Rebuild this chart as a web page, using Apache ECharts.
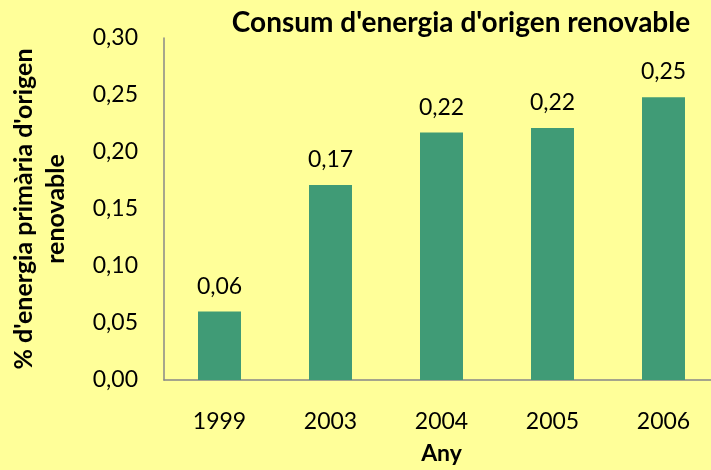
<!DOCTYPE html>
<html>
<head>
<meta charset="utf-8">
<script src="https://cdn.jsdelivr.net/npm/echarts@6/dist/echarts.min.js"></script>
<style>
  html, body { margin: 0; padding: 0; background: #ffff99; }
  #chart { width: 711px; height: 470px; }
</style>
</head>
<body>
<div id="chart"></div>
<script>
// dades
const years = ['1999', '2003', '2004', '2005', '2006']
const renewableShare = [0.06, 0.171, 0.217, 0.221, 0.248]
const yTicks = { min: 0, max: 0.30, step: 0.05 }

const fontFamily = 'Lato, "Open Sans", sans-serif'
const fmt = v => v.toFixed(2).replace('.', ',')

const chart = echarts.init(document.getElementById('chart'))

const option = {
  backgroundColor: '#ffff99',
  animation: false,
  title: {
    text: "Consum d'energia d'origen renovable",
    left: 456,
    top: 4,
    textAlign: 'center',
    textStyle: { fontFamily, fontSize: 28, fontWeight: 'bold', color: '#000' }
  },
  grid: { left: 164, right: -8, top: 38, bottom: 90, outerBoundsMode: 'none' },
  xAxis: {
    type: 'category',
    data: years,
    name: 'Any',
    nameLocation: 'middle',
    nameGap: 62,
    nameTextStyle: { fontFamily, fontSize: 23, fontWeight: 'bold', color: '#000' },
    axisLine: { lineStyle: { color: '#888', width: 1.5 } },
    axisTick: { show: false },
    axisLabel: { fontFamily, fontSize: 23, color: '#000', margin: 30 }
  },
  yAxis: {
    type: 'value',
    min: yTicks.min,
    max: yTicks.max,
    interval: yTicks.step,
    name: "% d'energia primària d'origen\nrenovable",
    nameLocation: 'middle',
    nameRotate: 90,
    nameGap: 92,
    nameTextStyle: { fontFamily, fontSize: 25, fontWeight: 'bold', color: '#000', lineHeight: 32 },
    axisLine: { show: true, lineStyle: { color: '#888', width: 1.5 } },
    axisTick: { show: false },
    splitLine: { show: false },
    axisLabel: { fontFamily, fontSize: 23, color: '#000', margin: 26, formatter: fmt }
  },
  series: [
    {
      type: 'bar',
      data: renewableShare,
      barWidth: 43,
      itemStyle: { color: '#409b76' },
      label: {
        show: true,
        position: 'top',
        distance: 14,
        fontFamily,
        fontSize: 23,
        color: '#000',
        formatter: p => fmt(p.value)
      }
    }
  ]
}

chart.setOption(option)
</script>
</body>
</html>
